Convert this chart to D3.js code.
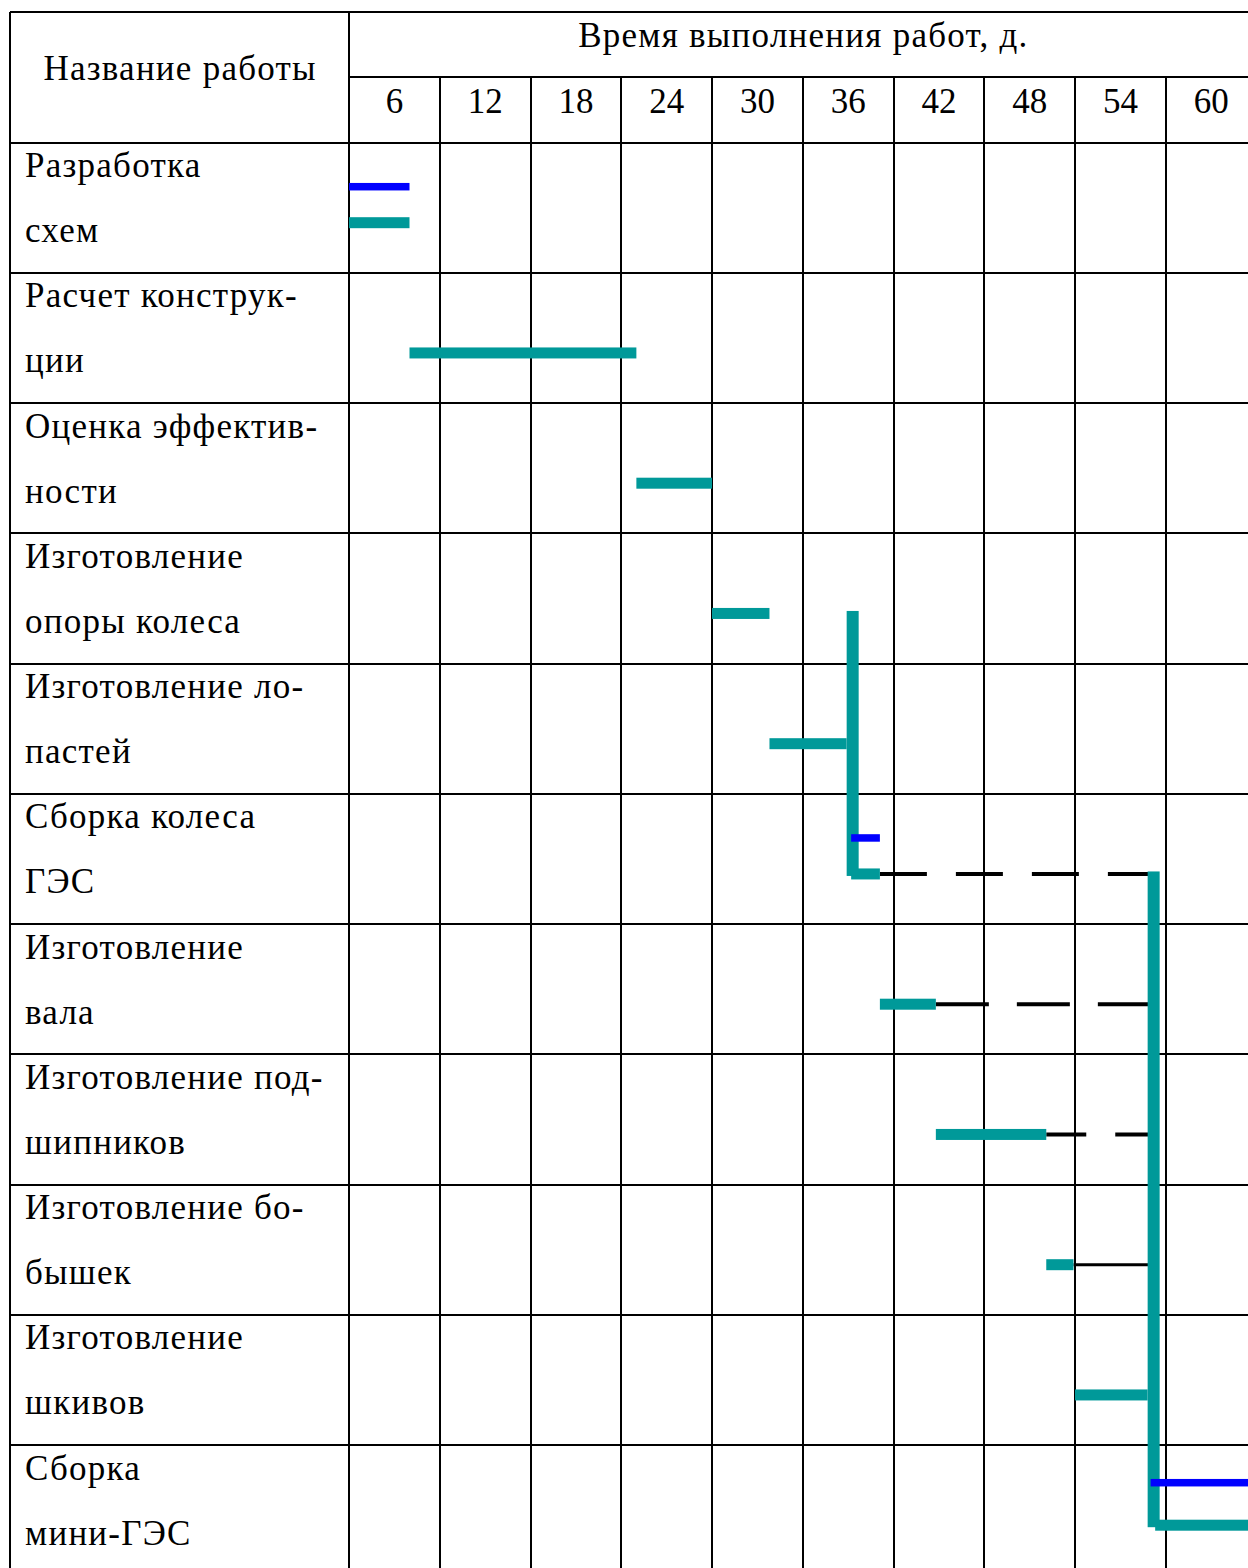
<!DOCTYPE html>
<html><head><meta charset="utf-8">
<script src="https://cdn.jsdelivr.net/npm/d3@7"></script>
<style>
html,body{margin:0;padding:0;background:#fff;overflow:hidden;}
svg{display:block;}
text{font-family:"Liberation Serif","Times New Roman",serif;fill:#000;}
</style></head>
<body>
<script>
// ---- data ----
const taskLines = [
  ["Разработка", "схем"],
  ["Расчет конструк-", "ции"],
  ["Оценка эффектив-", "ности"],
  ["Изготовление", "опоры колеса"],
  ["Изготовление ло-", "пастей"],
  ["Сборка колеса", "ГЭС"],
  ["Изготовление", "вала"],
  ["Изготовление под-", "шипников"],
  ["Изготовление бо-", "бышек"],
  ["Изготовление", "шкивов"],
  ["Сборка", "мини-ГЭС"]
];
const tickLabels = [6, 12, 18, 24, 30, 36, 42, 48, 54, 60];
const headerName = "Название работы";
const headerTime = "Время выполнения работ, д.";
// actual (teal) work bars, days
const tealStart = [0, 4, 19, 24, 27.8, 33.2, 35.1, 38.8, 46.1, 48.0, 53.3];
const tealEnd   = [4, 19, 24, 27.8, 32.9, 35.1, 38.8, 46.1, 47.9, 52.8, 62];
// planned (blue) bars
const blueRow   = [0, 5, 10];
const blueStart = [0, 33.2, 53.0];
const blueEnd   = [4, 35.1, 62];
// reserve lines (dashed / solid)
const reserveRow   = [5, 6, 7, 8];
const reserveStart = [35.1, 38.8, 46.1, 47.9];
const reserveEnd   = [53.3, 53.1, 53.1, 53.3];
const reserveDash  = ["47,29", "53,28", "40,29", null];
// vertical connectors
const connDay  = [33.3, 53.2];
const connFrom = [3, 5];
const connTo   = [5, 10];

(function () {
// ---- layout ----
const W = 1248, H = 1568;
const tLeft = 10, nameRight = 349, tTop = 12, headMid = 77, headBottom = 142.7;
const colW = 90.75;
const rowH = 130.25;
const teal = "#009999", blue = "#0000ff";

const svg = d3.select("body").append("svg").attr("width", W).attr("height", H);

const x = d3.scaleLinear().domain([0, 6]).range([nameRight, nameRight + colW]);
const tableRight = x(60);
const y = d3.scaleBand().domain(d3.range(taskLines.length))
  .range([headBottom, headBottom + rowH * taskLines.length]).paddingInner(0).paddingOuter(0);
const tableBottom = headBottom + rowH * taskLines.length;
const R = v => Math.round(v);

const tealY = i => y(i) + 80;
const blueY = i => y(i) + (i === 10 ? 37.5 : 44);

// grid
const g = svg.append("g").attr("stroke", "#000").attr("stroke-width", 2).attr("fill", "none")
  .attr("shape-rendering", "crispEdges");
g.append("line").attr("x1", tLeft).attr("x2", tableRight).attr("y1", tTop).attr("y2", tTop);
g.append("line").attr("x1", nameRight).attr("x2", tableRight).attr("y1", headMid).attr("y2", headMid);
g.append("line").attr("x1", tLeft).attr("x2", tableRight).attr("y1", R(headBottom)).attr("y2", R(headBottom));
g.selectAll("line.row").data(d3.range(1, taskLines.length + 1)).join("line").attr("class", "row")
  .attr("x1", tLeft).attr("x2", tableRight)
  .attr("y1", d => R(y(0) + d * rowH)).attr("y2", d => R(y(0) + d * rowH));
g.append("line").attr("x1", tLeft).attr("x2", tLeft).attr("y1", tTop).attr("y2", tableBottom);
g.append("line").attr("x1", nameRight).attr("x2", nameRight).attr("y1", tTop).attr("y2", tableBottom);
g.selectAll("line.col").data(tickLabels).join("line").attr("class", "col")
  .attr("x1", d => R(x(d))).attr("x2", d => R(x(d)))
  .attr("y1", d => d === 60 ? tTop : headMid).attr("y2", tableBottom);

// header text
const fs = 35, ls = 1.25;
svg.append("text").attr("x", (tLeft + nameRight) / 2 + ls / 2).attr("y", 80).attr("text-anchor", "middle")
  .attr("font-size", fs).attr("letter-spacing", ls).text(headerName);
svg.append("text").attr("x", (nameRight + tableRight) / 2 + ls / 2).attr("y", 47).attr("text-anchor", "middle")
  .attr("font-size", fs).attr("letter-spacing", ls).text(headerTime);
svg.selectAll("text.tick").data(tickLabels).join("text").attr("class", "tick")
  .attr("x", d => x(d - 3)).attr("y", 113).attr("text-anchor", "middle")
  .attr("font-size", fs).text(d => d);

// task labels
const lab = svg.selectAll("g.lab").data(taskLines).join("g").attr("class", "lab");
lab.selectAll("text").data((d, i) => d.map((t, k) => ({t, k, i}))).join("text")
  .attr("x", 25).attr("y", d => y(d.i) + 34.5 + d.k * 65)
  .attr("font-size", fs).attr("letter-spacing", ls).text(d => d.t);

// reserve lines
svg.selectAll("line.res").data(reserveRow).join("line").attr("class", "res")
  .attr("x1", (d, i) => x(reserveStart[i])).attr("x2", (d, i) => x(reserveEnd[i]))
  .attr("y1", d => tealY(d)).attr("y2", d => tealY(d))
  .attr("stroke", "#000").attr("stroke-width", (d, i) => reserveDash[i] ? 4 : 3)
  .attr("stroke-dasharray", (d, i) => reserveDash[i]);

// teal bars
svg.selectAll("rect.teal").data(tealStart).join("rect").attr("class", "teal")
  .attr("x", (d, i) => x(d)).attr("width", (d, i) => x(tealEnd[i]) - x(d))
  .attr("y", (d, i) => tealY(i) - 5.5).attr("height", 11).attr("fill", teal);

// connectors
svg.selectAll("rect.conn").data(connDay).join("rect").attr("class", "conn")
  .attr("x", d => x(d) - 6).attr("width", 12)
  .attr("y", (d, i) => tealY(connFrom[i]) - 2.5)
  .attr("height", (d, i) => tealY(connTo[i]) + 2 - (tealY(connFrom[i]) - 2.5))
  .attr("fill", teal);

// blue bars
svg.selectAll("rect.blue").data(blueRow).join("rect").attr("class", "blue")
  .attr("x", (d, i) => x(blueStart[i])).attr("width", (d, i) => x(blueEnd[i]) - x(blueStart[i]))
  .attr("y", d => blueY(d) - 3.75).attr("height", 7.5).attr("fill", blue);
})();
</script>
</body></html>
